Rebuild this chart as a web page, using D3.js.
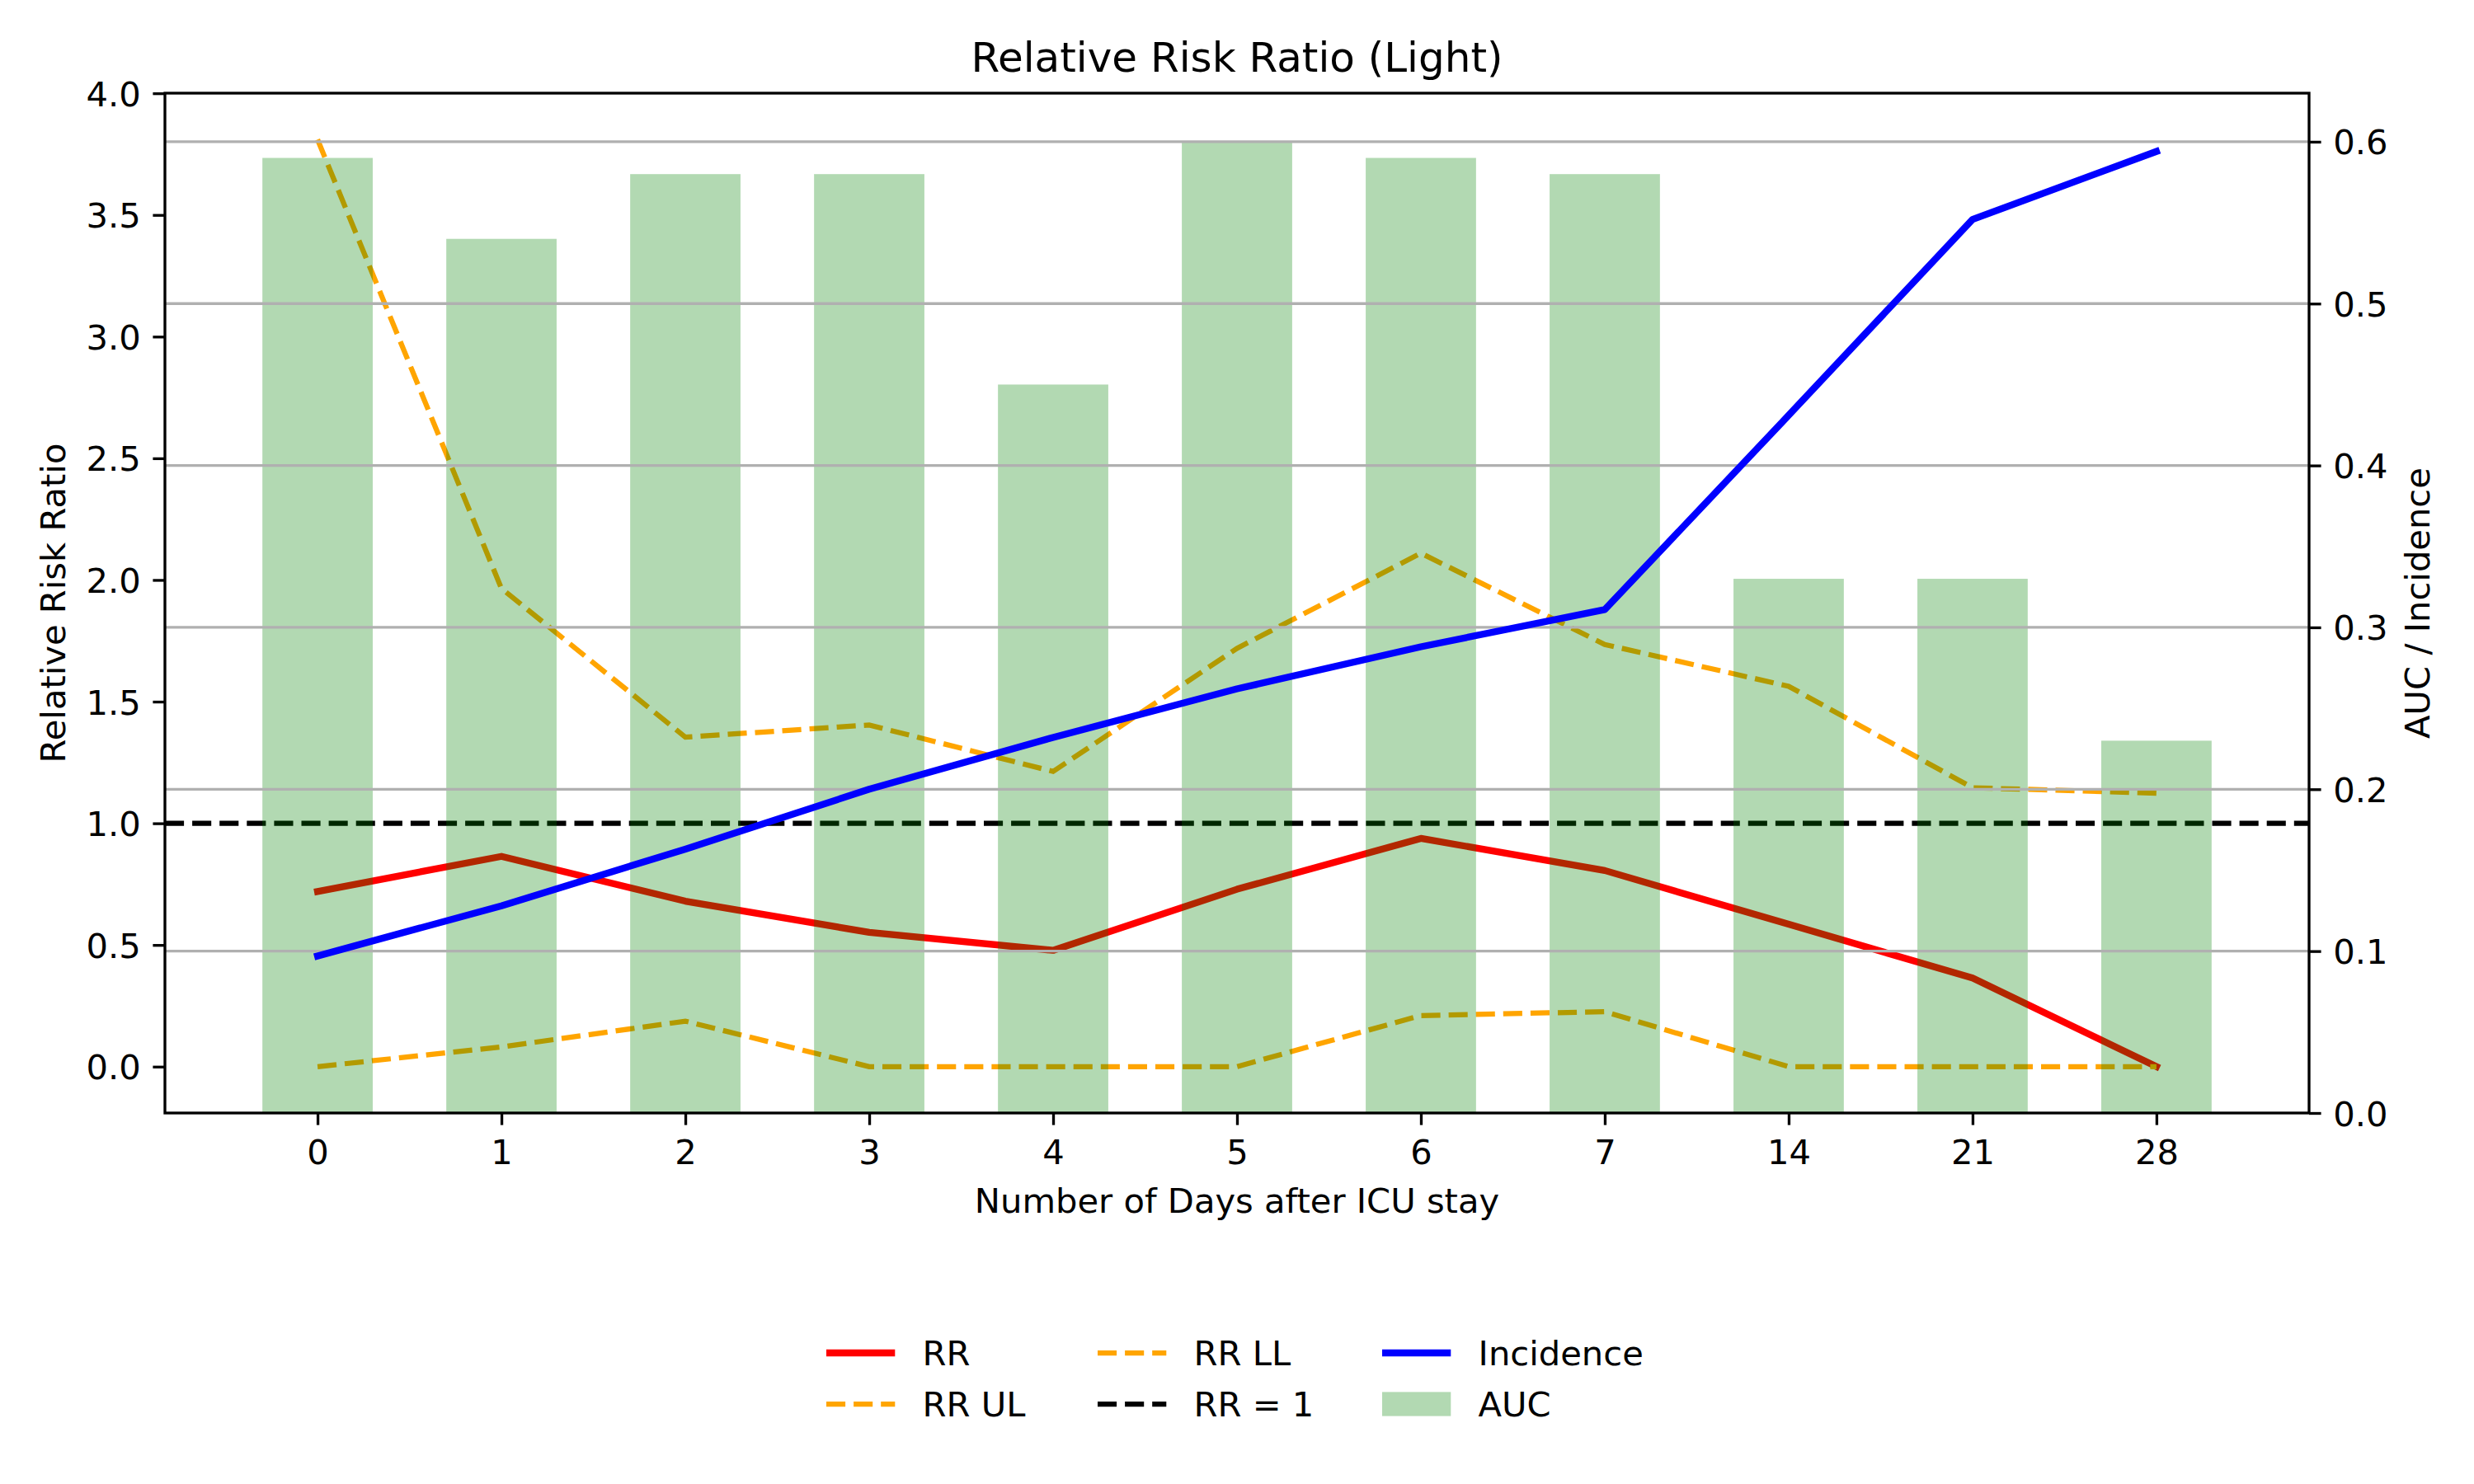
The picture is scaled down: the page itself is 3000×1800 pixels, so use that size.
<!DOCTYPE html>
<html>
<head>
<meta charset="utf-8">
<script src="https://cdn.jsdelivr.net/npm/d3@7"></script>
<style>
  body { margin: 0; background: #fff; }
  svg text { font-family: "DejaVu Sans", sans-serif; }
</style>
</head>
<body>
<div id="chart"></div>
<script>
var width = 3000;
var height = 1800;

// data
var days = ["0", "1", "2", "3", "4", "5", "6", "7", "14", "21", "28"];
var rr = [0.72, 0.864, 0.68, 0.552, 0.478, 0.729, 0.938, 0.806, 0.585, 0.364, 0.0];
var rrUL = [3.81, 1.965, 1.354, 1.404, 1.213, 1.719, 2.11, 1.735, 1.563, 1.146, 1.124];
var rrLL = [0.0, 0.081, 0.187, 0.0, 0.0, 0.0, 0.21, 0.226, 0.0, 0.0, 0.0];
var incidence = [0.097, 0.128, 0.163, 0.200, 0.232, 0.262, 0.288, 0.311, 0.431, 0.552, 0.594];
var auc = [0.59, 0.54, 0.58, 0.58, 0.45, 0.60, 0.59, 0.58, 0.33, 0.33, 0.23];

var leftTicks = [0, 0.5, 1, 1.5, 2, 2.5, 3, 3.5, 4];
var rightTicks = [0, 0.1, 0.2, 0.3, 0.4, 0.5, 0.6];

var plotLeft = 200, plotRight = 2800, plotTop = 113, plotBottom = 1350;
var fontPx = 41.67;
var tickLen = 14.6;

var xScale = d3.scaleLinear().domain([-0.83, 10.83]).range([plotLeft, plotRight]);
var yLeft = d3.scaleLinear().domain([-0.1905, 4.0005]).range([plotBottom, plotTop]);
var yRight = d3.scaleLinear().domain([0, 0.63]).range([plotBottom, plotTop]);

var svg = d3.select("#chart")
    .append("svg")
    .attr("width", width)
    .attr("height", height);

svg.append("rect").attr("width", width).attr("height", height).attr("fill", "#fff");

var idx = d3.range(days.length);

// ----- left axis lines (drawn under the bars) -----
function lineOn(vals, yS) {
    return d3.line()
        .x(function(i) { return xScale(i); })
        .y(function(i) { return yS(vals[i]); })(idx);
}

var leftG = svg.append("g");

leftG.append("path")
    .attr("d", lineOn(rr, yLeft))
    .attr("fill", "none").attr("stroke", "red").attr("stroke-width", 8.33)
    .attr("stroke-linecap", "square").attr("stroke-linejoin", "round");

leftG.append("path")
    .attr("d", lineOn(rrUL, yLeft))
    .attr("fill", "none").attr("stroke", "orange").attr("stroke-width", 6.25)
    .attr("stroke-dasharray", "23.1,10");

leftG.append("path")
    .attr("d", lineOn(rrLL, yLeft))
    .attr("fill", "none").attr("stroke", "orange").attr("stroke-width", 6.25)
    .attr("stroke-dasharray", "23.1,10");

leftG.append("line")
    .attr("x1", plotLeft).attr("x2", plotRight)
    .attr("y1", yLeft(1)).attr("y2", yLeft(1))
    .attr("stroke", "black").attr("stroke-width", 6.25)
    .attr("stroke-dasharray", "23.1,10");

// ----- right axis: bars, grid, incidence -----
var rightG = svg.append("g");

rightG.selectAll("rect.auc")
    .data(idx)
    .enter()
    .append("rect")
    .attr("class", "auc")
    .attr("x", function(i) { return xScale(i - 0.3); })
    .attr("width", function(i) { return xScale(i + 0.3) - xScale(i - 0.3); })
    .attr("y", function(i) { return yRight(auc[i]); })
    .attr("height", function(i) { return yRight(0) - yRight(auc[i]); })
    .attr("fill", "green")
    .attr("fill-opacity", 0.3);

rightG.selectAll("line.grid")
    .data(rightTicks.slice(1))
    .enter()
    .append("line")
    .attr("class", "grid")
    .attr("x1", plotLeft).attr("x2", plotRight)
    .attr("y1", function(d) { return yRight(d); })
    .attr("y2", function(d) { return yRight(d); })
    .attr("stroke", "#b0b0b0").attr("stroke-width", 3.33);

rightG.append("path")
    .attr("d", lineOn(incidence, yRight))
    .attr("fill", "none").attr("stroke", "blue").attr("stroke-width", 8.33)
    .attr("stroke-linecap", "square").attr("stroke-linejoin", "round");

// ----- spines -----
svg.append("rect")
    .attr("x", plotLeft).attr("y", plotTop)
    .attr("width", plotRight - plotLeft).attr("height", plotBottom - plotTop)
    .attr("fill", "none").attr("stroke", "black").attr("stroke-width", 3.33);

// ----- axes -----
var xAxis = d3.axisBottom(xScale)
    .tickValues(idx)
    .tickFormat(function(i) { return days[i]; })
    .tickSize(tickLen).tickSizeOuter(0).tickPadding(tickLen);

var yAxisL = d3.axisLeft(yLeft)
    .tickValues(leftTicks)
    .tickFormat(d3.format(".1f"))
    .tickSize(tickLen).tickSizeOuter(0).tickPadding(tickLen);

var yAxisR = d3.axisRight(yRight)
    .tickValues(rightTicks)
    .tickFormat(d3.format(".1f"))
    .tickSize(tickLen).tickSizeOuter(0).tickPadding(tickLen);

function styleAxis(g) {
    g.select(".domain").remove();
    g.selectAll(".tick line").attr("stroke", "black").attr("stroke-width", 3.33);
    g.selectAll(".tick text")
        .attr("fill", "black")
        .style("font-size", fontPx + "px")
        .style("font-family", "DejaVu Sans");
}

svg.append("g")
    .attr("transform", "translate(0," + plotBottom + ")")
    .call(xAxis)
    .call(styleAxis)
    .selectAll(".tick text").attr("dy", "0.78em");

svg.append("g")
    .attr("transform", "translate(" + plotLeft + ",0)")
    .call(yAxisL)
    .call(styleAxis)
    .selectAll(".tick text").attr("dy", "0.36em");

svg.append("g")
    .attr("transform", "translate(" + plotRight + ",0)")
    .call(yAxisR)
    .call(styleAxis)
    .selectAll(".tick text").attr("dy", "0.36em");

// ----- labels -----
svg.append("text")
    .attr("x", (plotLeft + plotRight) / 2).attr("y", 87)
    .attr("text-anchor", "middle")
    .style("font-size", "50px")
    .text("Relative Risk Ratio (Light)");

svg.append("text")
    .attr("x", (plotLeft + plotRight) / 2).attr("y", 1471)
    .attr("text-anchor", "middle")
    .style("font-size", fontPx + "px")
    .text("Number of Days after ICU stay");

svg.append("text")
    .attr("transform", "translate(79," + (plotTop + plotBottom) / 2 + ") rotate(-90)")
    .attr("text-anchor", "middle")
    .style("font-size", fontPx + "px")
    .text("Relative Risk Ratio");

svg.append("text")
    .attr("transform", "translate(2946," + (plotTop + plotBottom) / 2 + ") rotate(-90)")
    .attr("text-anchor", "middle")
    .style("font-size", fontPx + "px")
    .text("AUC / Incidence");

// ----- legend -----
var legendItems = [
    {label: "RR", type: "line", color: "red", w: 8.33, dash: null, col: 0, row: 0},
    {label: "RR UL", type: "line", color: "orange", w: 6.25, dash: "23.1,10", col: 0, row: 1},
    {label: "RR LL", type: "line", color: "orange", w: 6.25, dash: "23.1,10", col: 1, row: 0},
    {label: "RR = 1", type: "line", color: "black", w: 6.25, dash: "23.1,10", col: 1, row: 1},
    {label: "Incidence", type: "line", color: "blue", w: 8.33, dash: null, col: 2, row: 0},
    {label: "AUC", type: "patch", color: "green", col: 2, row: 1}
];
var colX = [1002, 1331, 1676];
var rowY = [1641, 1703];
var handleLen = 83.3;

var legendG = svg.append("g");
legendItems.forEach(function(it) {
    var x0 = colX[it.col], y0 = rowY[it.row];
    if (it.type === "line") {
        var ln = legendG.append("line")
            .attr("x1", x0).attr("x2", x0 + handleLen)
            .attr("y1", y0).attr("y2", y0)
            .attr("stroke", it.color).attr("stroke-width", it.w);
        if (it.dash) ln.attr("stroke-dasharray", it.dash);
    } else {
        legendG.append("rect")
            .attr("x", x0).attr("y", y0 - 14.6)
            .attr("width", handleLen).attr("height", 29.2)
            .attr("fill", it.color).attr("fill-opacity", 0.3);
    }
    legendG.append("text")
        .attr("x", x0 + handleLen + 33.3).attr("y", y0)
        .attr("dy", "0.36em")
        .style("font-size", fontPx + "px")
        .text(it.label);
});
</script>
</body>
</html>
